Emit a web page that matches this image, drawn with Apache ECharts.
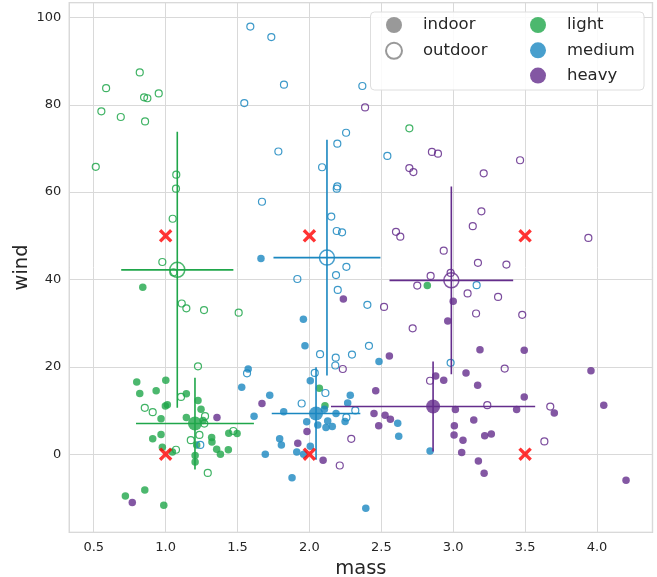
<!DOCTYPE html>
<html>
<head>
<meta charset="utf-8">
<script src="https://cdn.jsdelivr.net/npm/echarts@6/dist/echarts.min.js"></script>
<style>
html,body{margin:0;padding:0;background:#fff;}
#chart{width:657px;height:577px;}
</style>
</head>
<body>
<div id="chart"></div>
<script>
// ---- data ----
const lightIndoor = [[0.841,38.2],[0.799,16.5],[1.001,16.9],[0.82,13.9],[0.934,14.5],[1.144,13.8],[1.225,12.3],[0.998,11.0],[1.012,11.3],[1.246,10.3],[0.968,8.1],[1.144,8.4],[1.26,7.7],[0.91,3.5],[0.968,4.5],[1.216,2.1],[1.32,3.8],[1.322,2.8],[1.439,4.8],[1.497,4.7],[1.355,1.1],[1.381,0.0],[1.436,1.0],[0.977,1.6],[1.047,0.5],[1.205,-0.3],[1.205,-1.8],[0.855,-8.2],[0.72,-9.6],[0.987,-11.7],[2.069,15.1],[2.108,11.1],[2.82,38.6]];
const lightOutdoor = [[0.82,87.4],[0.586,83.8],[0.85,81.7],[0.873,81.5],[0.952,82.6],[0.553,78.5],[0.688,77.2],[0.857,76.2],[0.514,65.8],[1.074,64.0],[1.072,60.8],[1.049,53.9],[0.977,44.0],[1.054,41.6],[1.112,34.5],[1.144,33.4],[1.267,33.0],[1.508,32.4],[1.225,20.1],[1.107,13.1],[0.855,10.6],[0.91,9.6],[1.274,8.7],[1.269,7.0],[1.175,3.2],[1.235,4.4],[1.471,5.3],[1.072,1.0],[1.293,-4.3],[2.695,74.6]];
const mediumIndoor = [[1.663,44.8],[1.574,19.5],[1.529,15.3],[1.724,13.5],[1.615,8.7],[1.693,0.0],[1.958,30.9],[1.969,24.8],[2.484,21.2],[2.006,16.8],[2.284,13.5],[2.266,11.7],[2.104,10.3],[1.821,9.7],[2.185,9.3],[2.614,7.1],[2.248,7.5],[2.127,7.6],[1.981,7.4],[2.058,6.7],[2.115,6.1],[2.159,6.3],[2.621,4.1],[1.793,3.5],[1.805,2.1],[1.912,0.5],[2.006,1.8],[1.96,0.0],[1.879,-5.4],[2.392,-12.4],[2.839,0.7]];
const mediumOutdoor = [[1.589,97.9],[1.735,95.5],[1.823,84.6],[1.547,80.4],[2.368,84.3],[2.255,73.6],[2.194,71.1],[1.784,69.3],[2.542,68.3],[2.088,65.7],[2.194,61.3],[2.19,60.8],[1.67,57.8],[2.152,54.4],[2.19,51.1],[2.227,50.8],[2.257,42.9],[2.185,41.0],[1.916,40.1],[2.197,37.6],[2.403,34.2],[2.414,24.8],[2.074,22.9],[2.183,22.1],[2.296,22.8],[2.18,20.3],[2.037,18.6],[1.566,18.5],[2.111,14.0],[1.946,11.6],[2.319,10.0],[2.257,8.4],[1.241,2.1],[3.163,38.7],[2.982,20.9]];
const heavyIndoor = [[1.357,8.4],[0.768,-11.1],[1.67,11.6],[2.236,35.5],[2.556,22.5],[2.461,14.5],[2.449,9.3],[2.526,8.9],[2.563,8.0],[1.983,5.2],[2.482,6.5],[1.919,2.5],[2.095,-1.4],[3.0,35.0],[2.962,30.5],[3.186,23.9],[3.494,23.8],[3.089,18.6],[3.958,19.1],[2.878,17.9],[2.934,16.9],[3.17,15.8],[3.494,13.1],[3.015,10.2],[3.441,10.2],[3.703,9.4],[4.047,11.2],[3.143,7.8],[3.008,6.5],[3.006,4.4],[3.068,3.2],[3.219,4.2],[3.265,4.6],[3.059,0.4],[3.175,-1.6],[3.215,-4.4],[4.202,-6.0]];
const heavyOutdoor = [[2.387,79.4],[2.852,69.2],[2.894,68.8],[2.695,65.5],[2.723,64.6],[3.212,64.3],[3.465,67.3],[2.602,50.9],[2.632,49.8],[3.196,55.6],[3.136,52.2],[3.94,49.5],[2.934,46.6],[3.172,43.8],[3.37,43.4],[2.982,41.5],[2.843,40.8],[2.75,38.6],[2.519,33.7],[2.718,28.8],[3.1,36.8],[3.312,36.0],[3.159,32.2],[3.48,31.9],[3.358,19.6],[2.232,19.5],[2.839,16.8],[3.237,11.2],[3.675,10.9],[2.291,3.5],[2.211,-2.6],[3.634,2.9]];

// group means with error (order: light indoor, light outdoor, medium indoor, medium outdoor, heavy indoor, heavy outdoor)
const meanGroup = ['light','light','medium','medium','heavy','heavy'];
const meanSetting = ['indoor','outdoor','indoor','outdoor','indoor','outdoor'];
const meanX = [1.204, 1.081, 2.046, 2.122, 2.860, 2.987];
const meanY = [7.0, 42.2, 9.3, 45.0, 10.9, 39.8];
const errX = [0.41, 0.39, 0.308, 0.372, 0.71, 0.43];
const errY = [10.5, 31.6, 10.6, 27.0, 10.3, 21.5];

// reference markers
const markX = [1, 1, 2, 2, 3.5, 3.5];
const markY = [0, 50, 0, 50, 0, 50];

const xLimits = [0.33, 4.386];
const yLimits = [-17.9, 103.4];

// ---- styles ----
const colors = {light:'#1fa64a', medium:'#1a87c0', heavy:'#642d8c'};
const FONT = 'DejaVu Sans';
const TXT = '#262626';

const series = [];
const pointSets = {
  light: {indoor: lightIndoor, outdoor: lightOutdoor},
  medium: {indoor: mediumIndoor, outdoor: mediumOutdoor},
  heavy: {indoor: heavyIndoor, outdoor: heavyOutdoor}
};
['light','medium','heavy'].forEach(g => {
  series.push({
    type:'scatter', name: g + ' indoor', data: pointSets[g].indoor, symbol:'circle', symbolSize: 7.5,
    itemStyle:{color: colors[g], opacity: 0.8}, z: 2, silent: true
  });
  series.push({
    type:'scatter', name: g + ' outdoor', data: pointSets[g].outdoor, symbol:'circle', symbolSize: 7,
    itemStyle:{color: 'rgba(255,255,255,0)', borderColor: colors[g], borderWidth: 1.2, opacity: 0.85}, z: 2, silent: true
  });
});
// error bars
meanX.forEach((mx, i) => {
  const my = meanY[i], c = colors[meanGroup[i]];
  series.push({type:'line', data:[[mx - errX[i], my],[mx + errX[i], my]], showSymbol:false, symbol:'none',
    lineStyle:{color:c, width:1.6}, z:3, silent:true, animation:false});
  series.push({type:'line', data:[[mx, my - errY[i]],[mx, my + errY[i]]], showSymbol:false, symbol:'none',
    lineStyle:{color:c, width:1.6}, z:3, silent:true, animation:false});
});
// means
meanX.forEach((mx, i) => {
  const c = colors[meanGroup[i]];
  const indoor = meanSetting[i] === 'indoor';
  series.push({type:'scatter', data:[[mx, meanY[i]]], symbol:'circle', symbolSize: indoor ? 14 : 15,
    itemStyle: indoor ? {color:c} : {color:'rgba(255,255,255,0)', borderColor:c, borderWidth:1.5},
    z:4, silent:true});
});
// red X markers
series.push({type:'scatter', data: markX.map((x, i) => [x, markY[i]]),
  symbol:'path://M0,3.5 L3.5,0 L10,6.5 L16.5,0 L20,3.5 L13.5,10 L20,16.5 L16.5,20 L10,13.5 L3.5,20 L0,16.5 L6.5,10 Z',
  symbolSize: 13.5, itemStyle:{color:'#ff0000'}, z:5, silent:true});

// legend dummies
series.push({type:'scatter', name:'indoor', data:[], itemStyle:{color:'#808080'}});
series.push({type:'scatter', name:'outdoor', data:[], itemStyle:{color:'#ffffff', borderColor:'#808080', borderWidth:1.5}});
series.push({type:'scatter', name:'light', data:[], itemStyle:{color:colors.light}});
series.push({type:'scatter', name:'medium', data:[], itemStyle:{color:colors.medium}});
series.push({type:'scatter', name:'heavy', data:[], itemStyle:{color:colors.heavy}});

const legendCommon = {
  orient:'vertical', icon:'circle', itemWidth:16, itemHeight:16, itemGap:8.3, padding:0,
  selectedMode:false, z:10,
  textStyle:{fontFamily:FONT, fontSize:16.5, color:TXT, padding:[0,0,0,16]}
};

const chart = echarts.init(document.getElementById('chart'), null, {renderer:'canvas'});
chart.setOption({
  animation:false,
  backgroundColor:'#ffffff',
  grid:{left:69.3, right:4.5, top:2.6, bottom:44.7, show:true, borderColor:'#cccccc', borderWidth:1.3,
    backgroundColor:'transparent', containLabel:false, outerBoundsMode:'none'},
  xAxis:{type:'value', min:xLimits[0], max:xLimits[1], splitNumber:8,
    name:'mass', nameLocation:'middle', nameGap:27, nameMoveOverlap:false,
    nameTextStyle:{fontFamily:FONT, fontSize:19.5, color:TXT},
    axisLine:{show:false}, axisTick:{show:false},
    axisLabel:{fontFamily:FONT, fontSize:13, color:TXT, margin:9, showMinLabel:false, showMaxLabel:false,
      formatter: v => v.toFixed(1)},
    splitLine:{show:true, lineStyle:{color:'#d9d9d9', width:1}}},
  yAxis:{type:'value', min:yLimits[0], max:yLimits[1], splitNumber:6,
    name:'wind', nameLocation:'middle', nameGap:37, nameMoveOverlap:false,
    nameTextStyle:{fontFamily:FONT, fontSize:19.5, color:TXT},
    axisLine:{show:false}, axisTick:{show:false},
    axisLabel:{fontFamily:FONT, fontSize:13, color:TXT, margin:8, showMinLabel:false, showMaxLabel:false},
    splitLine:{show:true, lineStyle:{color:'#d9d9d9', width:1}}},
  legend:[
    Object.assign({}, legendCommon, {left:385, top:16.5, data:['indoor','outdoor']}),
    Object.assign({}, legendCommon, {left:530, top:16.5, data:['light','medium','heavy']})
  ],
  graphic:[{type:'rect', left:370, top:11.5, z:5,
    shape:{width:273.5, height:78, r:4},
    style:{fill:'rgba(255,255,255,0.85)', stroke:'#dedede', lineWidth:1}}],
  series: series
});
</script>
</body>
</html>
